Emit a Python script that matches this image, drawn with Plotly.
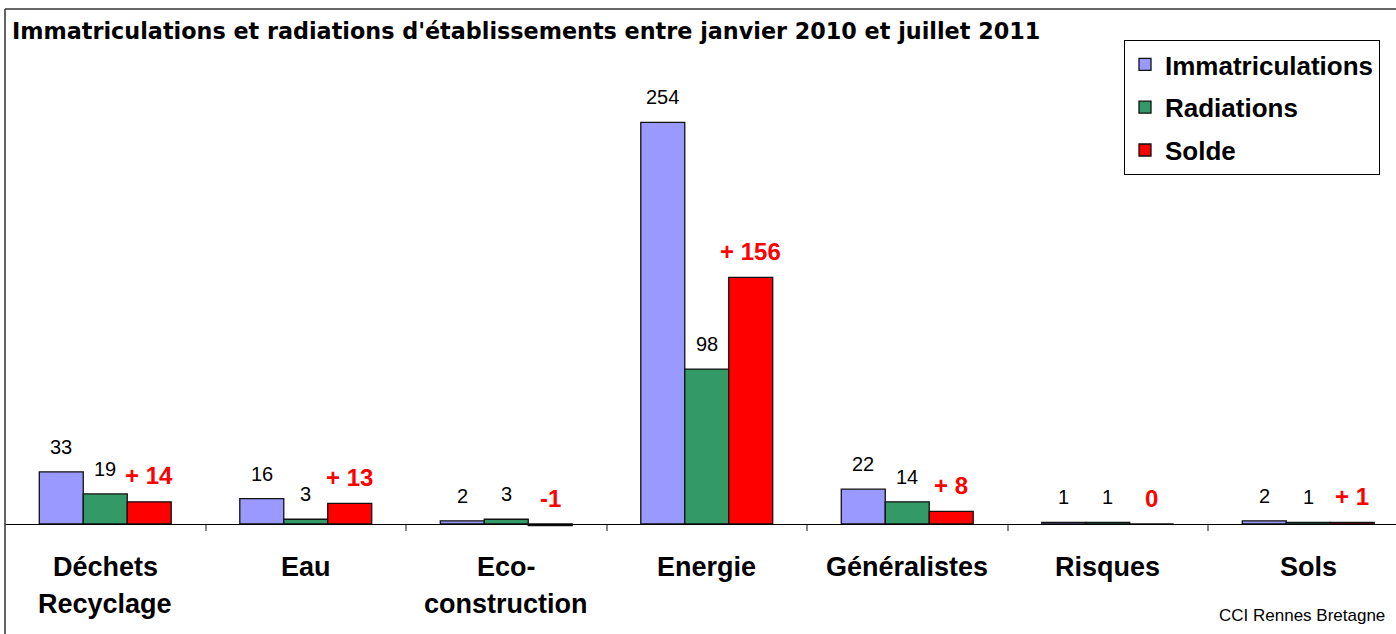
import plotly.graph_objects as go

# ---- data ----
categories = ["Déchets Recyclage", "Eau", "Eco-construction", "Energie",
              "Généralistes", "Risques", "Sols"]
label_line1 = ["Déchets", "Eau", "Eco-", "Energie", "Généralistes", "Risques", "Sols"]
label_line2 = ["Recyclage", "", "construction", "", "", "", ""]
immatriculations = [33, 16, 2, 254, 22, 1, 2]
radiations = [19, 3, 3, 98, 14, 1, 1]
solde = [14, 13, -1, 156, 8, 0, 1]
solde_labels = ["+ 14", "+ 13", "-1", "+ 156", "+ 8", "0", "+ 1"]
series_names = ["Immatriculations", "Radiations", "Solde"]
colors = ["#9999FF", "#339966", "#FF0000"]

# ---- layout geometry ----
W, H = 1396, 634
L, R, T, B = 5, 0, 9, 0
plot_w, plot_h = W - L - R, H - T - B
zero_px = 524
px_per_unit = 1.581
cat_px = 200.5
ymax = (zero_px - T) / px_per_unit
ymin = -(H - B - zero_px) / px_per_unit
xmax = -0.5 + plot_w / cat_px
bargap = 0.342
bw = (1 - bargap) / 3
FONT = "Liberation Sans, Arial, sans-serif"
TITLE_FONT = "DejaVu Sans, sans-serif"

xs = list(range(len(categories)))
series = [immatriculations, radiations, solde]

fig = go.Figure()
for k, (name, vals, col) in enumerate(zip(series_names, series, colors)):
    fig.add_trace(go.Bar(
        x=xs, y=vals, name=name, legendgroup=name,
        marker=dict(color=col, line=dict(color="#111111", width=1.3)),
        hoverinfo="skip",
    ))

annotations = []
for k, vals in enumerate(series):
    for i, v in enumerate(vals):
        if k < 2:
            txt = str(v)
            font = dict(family=FONT, size=20, color="black")
            shift = 25
        else:
            txt = solde_labels[i]
            font = dict(family=FONT, size=24, color="#FF0000", weight="bold")
            shift = 26
        annotations.append(dict(
            x=xs[i] + (k - 1) * bw, y=max(v, 0), xref="x", yref="y",
            text=txt, showarrow=False, yanchor="middle", xanchor="center",
            yshift=shift, font=font))

for i in xs:
    annotations.append(dict(
        x=i, y=0, xref="x", yref="y", text=label_line1[i], showarrow=False,
        yanchor="middle", yshift=-43,
        font=dict(family=FONT, size=27, color="black", weight="bold")))
    if label_line2[i]:
        annotations.append(dict(
            x=i, y=0, xref="x", yref="y", text=label_line2[i], showarrow=False,
            yanchor="middle", yshift=-80,
            font=dict(family=FONT, size=27, color="black", weight="bold")))

annotations.append(dict(
    x=1 - (W - 1387) / plot_w, y=(H - B - 615) / plot_h, xref="paper", yref="paper",
    text="CCI Rennes Bretagne", showarrow=False, xanchor="right", yanchor="middle",
    font=dict(family=FONT, size=17, color="black")))

fig.update_layout(
    width=W, height=H,
    margin=dict(l=L, r=R, t=T, b=B, pad=0),
    paper_bgcolor="white", plot_bgcolor="white",
    barmode="group", bargap=bargap, bargroupgap=0,
    title=dict(text="Immatriculations et radiations d'établissements entre janvier 2010 et juillet 2011",
               x=12 / W, xanchor="left", xref="container",
               y=1 - 31 / H, yanchor="middle", yref="container",
               font=dict(family=TITLE_FONT, size=22.3, color="black", weight="bold")),
    xaxis=dict(range=[-0.5, xmax], tickvals=[i + 0.5 for i in xs[:-1]],
               showticklabels=False, ticks="outside", ticklen=6, tickwidth=1.5,
               tickcolor="#888888", showline=True, linecolor="black", linewidth=1.2,
               showgrid=False, zeroline=False, anchor="free",
               position=(H - B - zero_px) / plot_h, fixedrange=True),
    yaxis=dict(range=[ymin, ymax], visible=False, showgrid=False, zeroline=False),
    legend=dict(x=(1380 - L) / plot_w, xanchor="right",
                y=(H - B - 40) / plot_h, yanchor="top",
                bordercolor="black", borderwidth=1, bgcolor="white",
                font=dict(family=FONT, size=26, color="black", weight="bold"),
                tracegroupgap=6, traceorder="grouped"),
    annotations=annotations,
    shapes=[
        dict(type="line", xref="paper", yref="paper", x0=0, x1=0, y0=0, y1=1,
             line=dict(color="#333333", width=1.5)),
        dict(type="line", xref="paper", yref="paper", x0=0, x1=1, y0=1, y1=1,
             line=dict(color="#333333", width=1.5)),
    ],
    showlegend=True,
)

fig.write_html("out.html", config={"displayModeBar": False},
               post_script="document.body.style.margin='0';document.body.style.overflow='hidden';")
